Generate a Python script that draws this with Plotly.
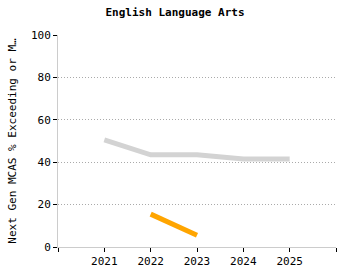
import plotly.graph_objects as go

years = [2021, 2022, 2023, 2024, 2025]
series_gray = [50.5, 43.5, 43.5, 41.5, 41.5]
years_orange = [2022, 2023]
series_orange = [15.5, 5.5]
tick_years = [2020, 2021, 2022, 2023, 2024, 2025, 2026]
tick_labels = ["", "2021", "2022", "2023", "2024", "2025", ""]

font = "DejaVu Sans Mono"
fig = go.Figure()
fig.add_trace(go.Scatter(x=years, y=series_gray, mode="lines",
                         line=dict(color="#d3d3d3", width=5), showlegend=False))
fig.add_trace(go.Scatter(x=years_orange, y=series_orange, mode="lines",
                         line=dict(color="#ffa500", width=5), showlegend=False))
fig.update_layout(
    width=350, height=280,
    margin=dict(l=58, r=14, t=35, b=33),
    paper_bgcolor="white", plot_bgcolor="white",
    font=dict(family=font, size=11, color="#000"),
    title=dict(text="<b>English Language Arts</b>", x=0.5, xanchor="center",
               y=0.955, yanchor="middle", font=dict(family=font, size=11)),
    xaxis=dict(range=[2020, 2026], tickvals=tick_years, ticktext=tick_labels,
               showgrid=False, showline=True, linecolor="#cccccc", linewidth=1,
               ticks="outside", ticklen=4, tickcolor="#000", zeroline=False,
               tickfont=dict(family=font, size=11)),
    yaxis=dict(range=[0, 100], tickvals=[0, 20, 40, 60, 80, 100],
               showgrid=True, gridcolor="#aaaaaa", griddash="1px,2px", gridwidth=1,
               showline=True, linecolor="#cccccc", linewidth=1,
               ticks="outside", ticklen=4, tickcolor="#000", zeroline=False,
               title=dict(text="Next Gen MCAS % Exceeding or M…", standoff=12,
                          font=dict(family=font, size=11)),
               tickfont=dict(family=font, size=11)),
)
fig.write_html("out.html")
